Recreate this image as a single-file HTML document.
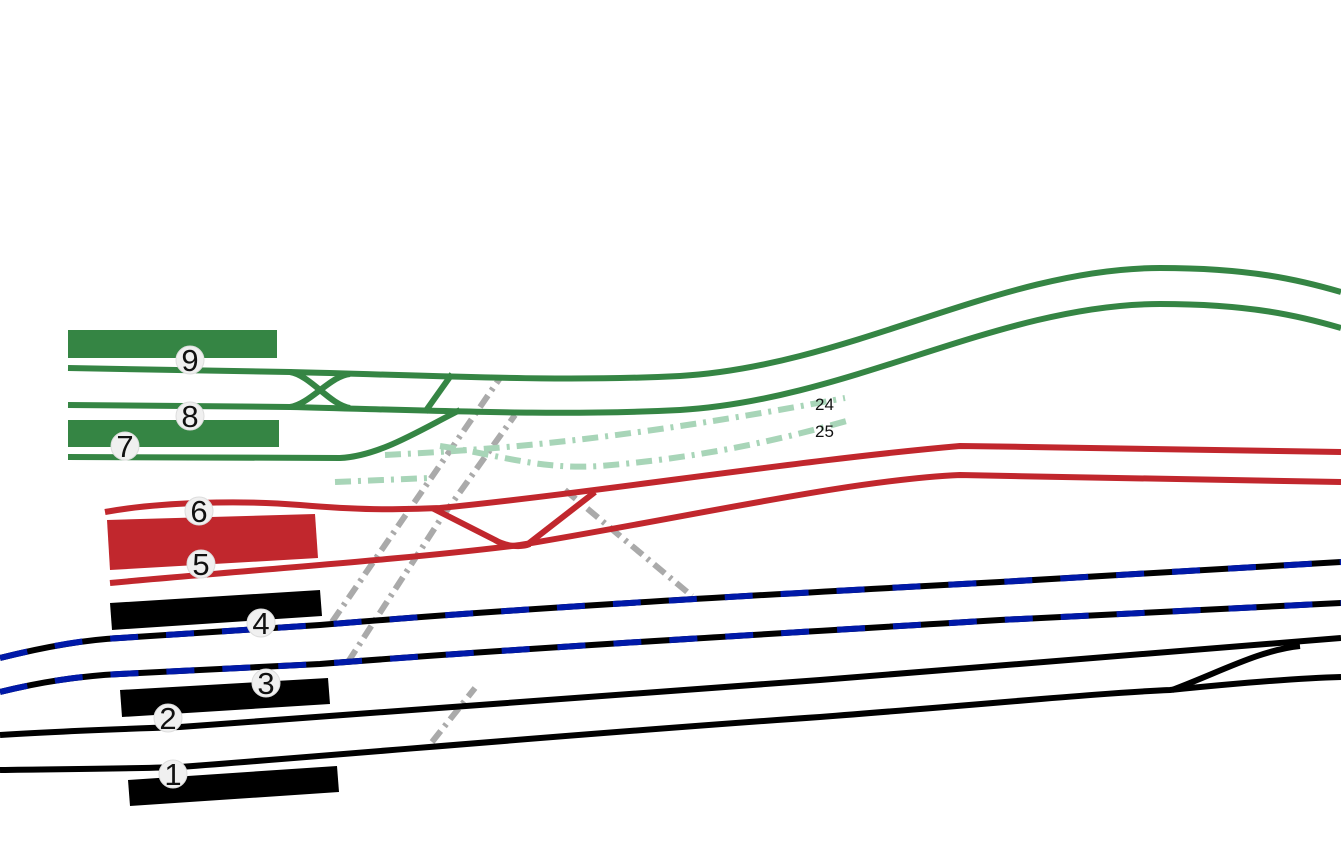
<!DOCTYPE html>
<html><head><style>body{margin:0;background:#fff}svg{display:block}text{font-family:"Liberation Sans",sans-serif}</style></head><body>
<svg width="1341" height="866" viewBox="0 0 1341 866" xmlns="http://www.w3.org/2000/svg">
<g fill="none" stroke-linecap="butt">
<g stroke="#aaa" stroke-width="6" stroke-dasharray="14 6 3 6">
<path d="M332 622 L500 378"/>
<path d="M348 662 L440 520 L515 415"/>
<path d="M432 742 L475 688"/>
<path d="M565 490 L692 596"/>
</g>
<g stroke="#a8d5b8" stroke-width="6" stroke-dasharray="16 7 3 7">
<path d="M385 455 C480 450 600 444 845 398"/>
<path d="M335 482 L430 478"/>
<path d="M440 446 C500 455 540 470 600 466 C700 458 780 440 850 420"/>
</g>
<g stroke="#358544" stroke-width="6">
<path d="M68 368 L290 372 C450 376 560 382 680 376 C850 366 1000 268 1160 268 C1250 268 1300 280 1341 292"/>
<path d="M68 405 L290 407 C450 411 560 416 680 410 C850 400 1000 304 1160 304 C1250 304 1300 316 1341 328"/>
<path d="M68 457 L340 458 C380 456 420 430 460 410"/>
<path d="M290 372 C310 375 330 405 350 408"/>
<path d="M290 407 C310 404 330 376 350 374"/>
<path d="M452 374 L425 412"/>
</g>
<rect x="68" y="330" width="209" height="28" fill="#358544"/>
<rect x="68" y="420" width="211" height="27" fill="#358544"/>
<g stroke="#c1272d" stroke-width="6">
<path d="M105 512 C160 502 240 500 300 505 C360 510 390 510 440 508 C600 492 800 460 960 446 C1100 448 1250 450 1341 452"/>
<path d="M110 583 C250 570 400 560 520 545 C700 515 850 480 960 475 C1100 478 1250 480 1341 482"/>
<path d="M432 508 L495 540 C505 546 520 548 530 544"/>
<path d="M528 544 L595 492"/>
</g>
<polygon points="107,520 315,514 318,558 110,570" fill="#c1272d"/>
<g stroke-width="6">
<path d="M0 658 C40 648 80 640 120 638 L320 625 C500 610 700 598 1000 582 L1341 562" stroke="#000"/>
<path d="M0 658 C40 648 80 640 120 638 L320 625 C500 610 700 598 1000 582 L1341 562" stroke="#0019a8" stroke-dasharray="28 28"/>
<path d="M0 692 C40 682 80 676 120 674 L320 664 C500 650 700 638 1000 620 L1341 603" stroke="#000"/>
<path d="M0 692 C40 682 80 676 120 674 L320 664 C500 650 700 638 1000 620 L1341 603" stroke="#0019a8" stroke-dasharray="28 28"/>
</g>
<g stroke="#000" stroke-width="6">
<path d="M0 735 C60 731 120 729 180 727 C400 712 600 695 820 680 C1000 666 1200 648 1341 638"/>
<path d="M0 770 C60 769 120 769 180 767 C400 750 600 732 820 717 C1000 703 1100 693 1170 690 C1250 682 1300 678 1341 677"/>
<path d="M1172 690 C1220 672 1260 650 1300 646"/>
</g>
</g>
<polygon points="110,603 320,590 322,616 112,630" fill="#000"/>
<polygon points="120,690 328,678 330,704 122,717" fill="#000"/>
<polygon points="128,780 337,766 339,792 130,806" fill="#000"/>
<g fill="#f0f0f0" stroke="#ddd" stroke-width="1">
<circle cx="190" cy="360" r="14"/><circle cx="190" cy="416" r="14"/><circle cx="125" cy="446" r="14"/>
<circle cx="199" cy="511" r="14"/><circle cx="201" cy="564" r="14"/><circle cx="261" cy="623" r="14"/>
<circle cx="266" cy="683" r="14"/><circle cx="168" cy="718" r="14"/><circle cx="173" cy="774" r="14"/>
</g>
<g font-size="31" text-anchor="middle" fill="#111">
<text x="190" y="371">9</text><text x="190" y="427">8</text><text x="125" y="457">7</text>
<text x="199" y="522">6</text><text x="201" y="575">5</text><text x="261" y="634">4</text>
<text x="266" y="694">3</text><text x="168" y="729">2</text><text x="173" y="785">1</text>
</g>
<text x="815" y="410" font-size="17" fill="#111">24</text>
<text x="815" y="437" font-size="17" fill="#111">25</text>
</svg>
</body></html>
